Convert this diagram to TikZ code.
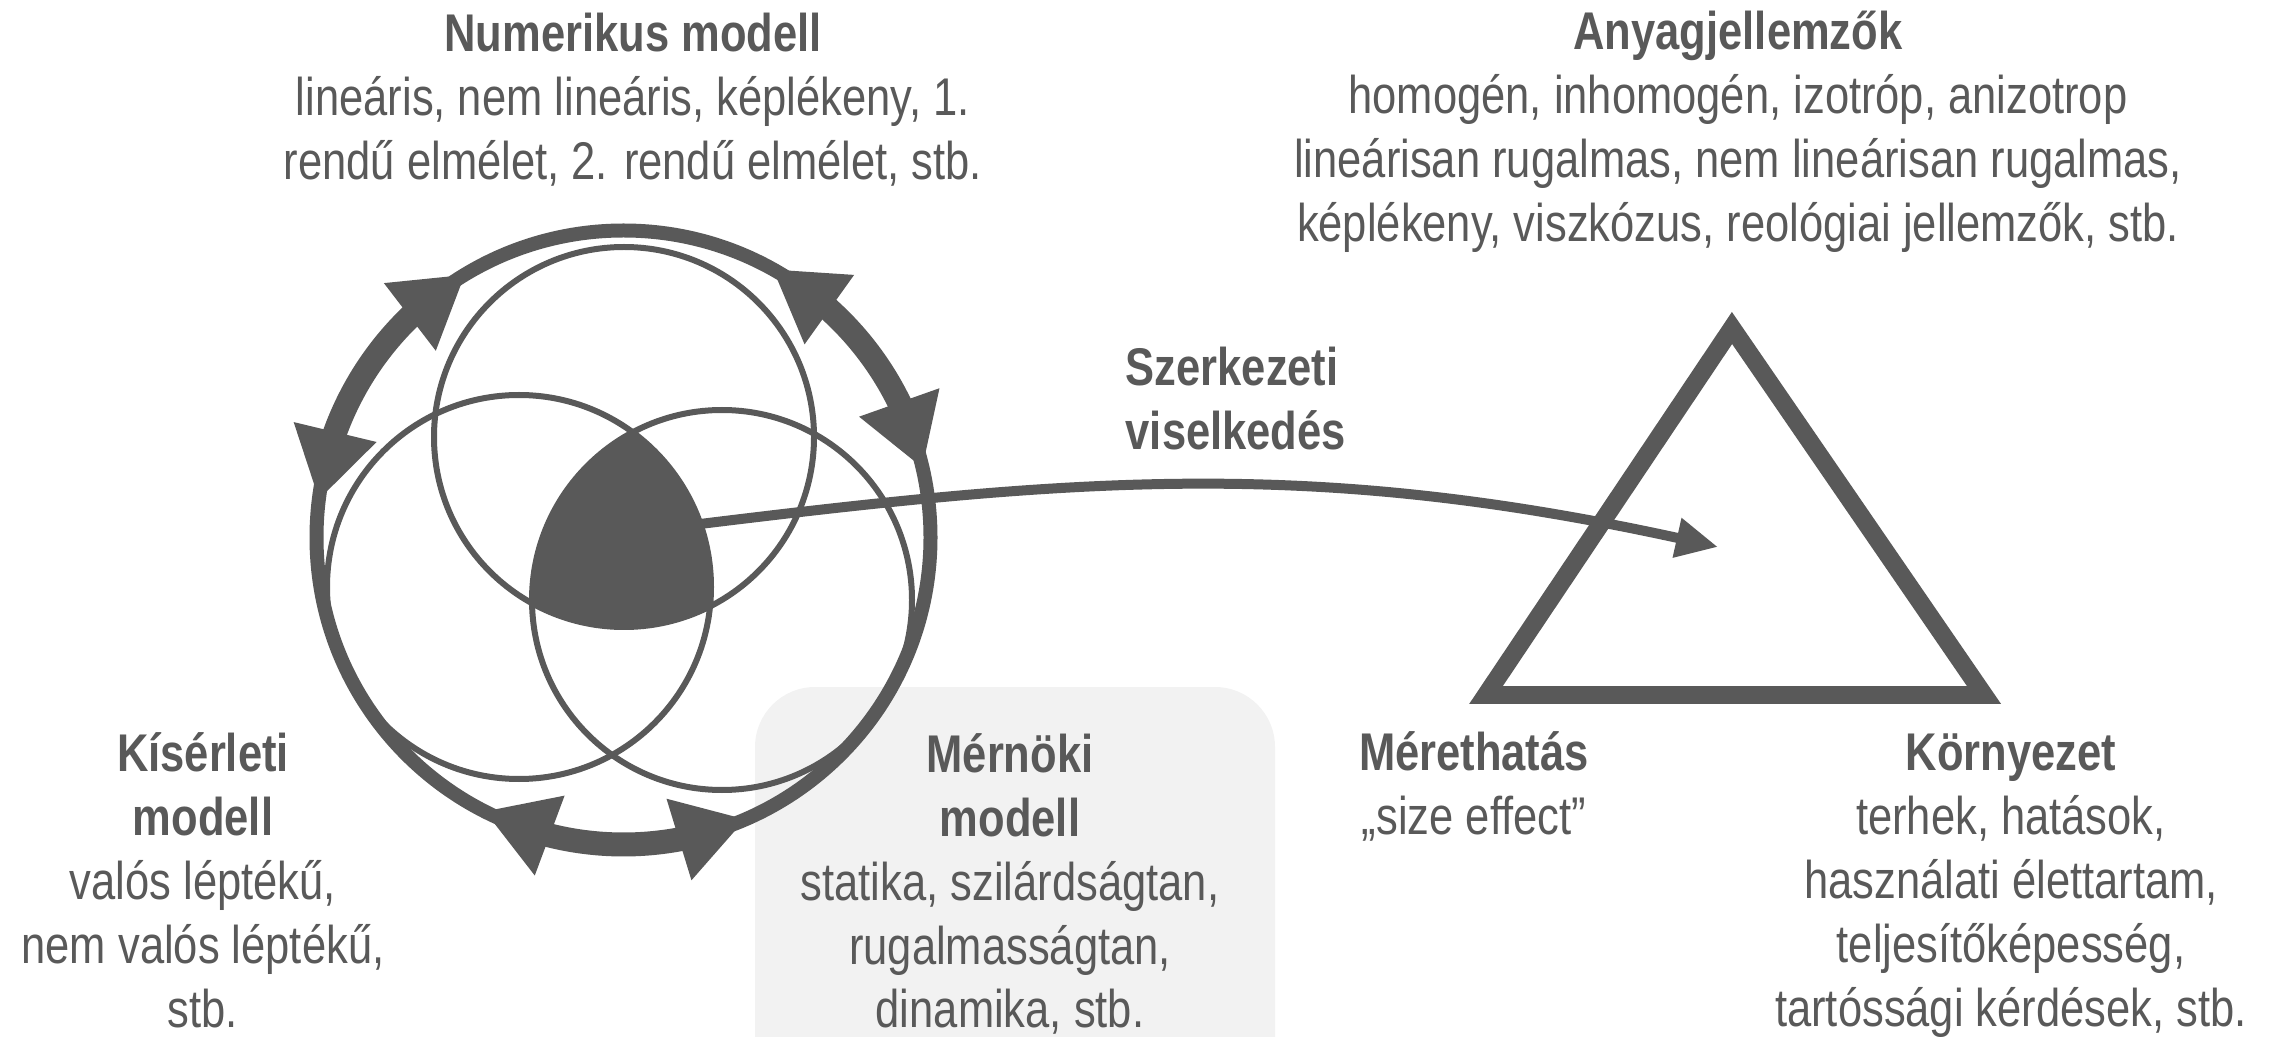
\documentclass[tikz,border=0pt]{standalone}
\usepackage{fontspec}
\setmainfont{Liberation Sans}[FakeStretch=0.82]
\usepackage{xcolor}
\usepackage{tikz}
\usetikzlibrary{positioning,arrows.meta,bending}
\definecolor{ink}{HTML}{595959}
\definecolor{panel}{HTML}{F2F2F2}

\begin{document}
\begin{tikzpicture}[
    txt/.style={align=center, inner sep=0pt, text=ink, font=\fontsize{15.1}{18.2}\selectfont},
    panelbox/.style={rectangle, fill=panel, rounded corners=0.6cm, inner sep=0pt},
    venn/.style={draw=ink, line width=0.06cm},
    loopline/.style={draw=ink, line width=0.14cm},
    cyc/.style={draw=ink, line width=0.24cm, {Triangle[length=0.70cm,width=0.80cm]}-{Triangle[length=0.70cm,width=0.80cm]}},
    flow/.style={draw=ink, line width=0.1cm, -{Triangle[length=0.42cm,width=0.38cm]}},
    tri/.style={draw=ink, line width=0.18cm, line join=miter}
]
\useasboundingbox (0,0) rectangle (22.77,-10.37);

% Background panel of the engineering model
\node[panelbox, minimum width=5.2cm, minimum height=4.4cm] (engbox) at (10.15,-9.07) {};

% Venn diagram of the three models
\coordinate (ctr) at (6.235,-5.375);
\coordinate (cnum) at (6.24,-4.37);
\coordinate (cexp) at (5.19,-5.87);
\coordinate (ceng) at (7.22,-6.00);
\begin{scope}
  \clip (cnum) circle (1.90);
  \clip (cexp) circle (1.92);
  \fill[ink] (ceng) circle (1.90);
\end{scope}
\draw[venn] (cnum) circle (1.90);
\draw[venn] (cexp) circle (1.92);
\draw[venn] (ceng) circle (1.90);

% Outer loop with the two-way arrows
\draw[loopline] (ctr) circle (3.07);
\draw[cyc] ([shift={(ctr)}]121:3.07) arc[start angle=121, end angle=173, radius=3.07];
\draw[cyc] ([shift={(ctr)}]61:3.07) arc[start angle=61, end angle=13, radius=3.07];
\draw[cyc] ([shift={(ctr)}]243:3.07) arc[start angle=243, end angle=293.5, radius=3.07];

% Triangle of influences
\coordinate (apex) at (17.32,-3.28);
\coordinate (bl) at (14.86,-6.95);
\coordinate (br) at (19.84,-6.95);
\draw[tri] (apex) -- (bl) -- (br) -- cycle;

% Structural behaviour arrow
\coordinate (core) at (7.00,-5.24);
\coordinate (goal) at (17.18,-5.47);
\draw[flow] (core) to[out=7, in=167] (goal);

% Labels
\node[txt] (num) at (6.33,-1.00) {\textbf{Numerikus modell}\\lineáris, nem lineáris, képlékeny, 1.\\rendű elmélet, 2. rendű elmélet, stb.};
\node[txt] (mat) at (17.38,-1.32) {\textbf{Anyagjellemzők}\\homogén, inhomogén, izotróp, anizotrop\\lineárisan rugalmas, nem lineárisan rugalmas,\\képlékeny, viszkózus, reológiai jellemzők, stb.};
\node[txt, align=left, anchor=west] (beh) at (11.25,-3.99) {\textbf{Szerkezeti}\\\textbf{viselkedés}};
\node[txt] (exp) at (2.03,-8.80) {\textbf{Kísérleti}\\\textbf{modell}\\valós léptékű,\\nem valós léptékű,\\stb.};
\node[txt] (eng) at (10.10,-8.84) {\textbf{Mérnöki}\\\textbf{modell}\\statika, szilárdságtan,\\rugalmasságtan,\\dinamika, stb.};
\node[txt] (size) at (14.74,-7.86) {\textbf{Mérethatás}\\„size effect”};
\node[txt] (env) at (20.11,-8.86) {\textbf{Környezet}\\terhek, hatások,\\használati élettartam,\\teljesítőképesség,\\tartóssági kérdések, stb.};

\end{tikzpicture}
\end{document}
